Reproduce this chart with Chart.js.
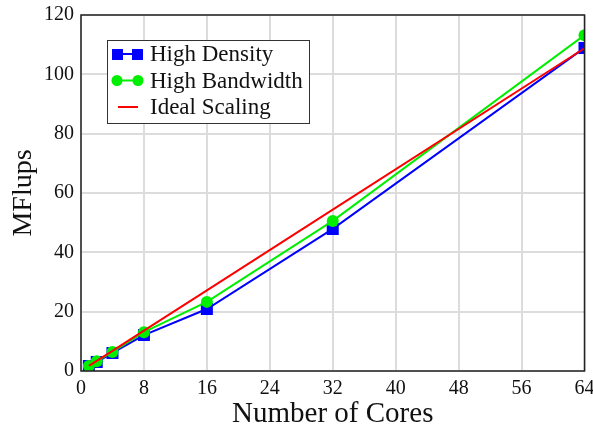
<!DOCTYPE html>
<html>
<head>
<meta charset="utf-8">
<script src="https://cdn.jsdelivr.net/npm/chart.js@4/dist/chart.umd.min.js"></script>
<style>
  html, body { margin: 0; padding: 0; background: #fff; }
  #wrap { width: 593px; height: 432px; }
</style>
</head>
<body>
<div id="wrap"><canvas id="chart" width="593" height="432"></canvas></div>
<script>
// data
const cores = [1, 2, 4, 8, 16, 32, 64];
const highDensity = [1.7, 3.0, 6.1, 12.1, 20.9, 47.9, 108.9];
const highBandwidth = [1.7, 3.3, 6.4, 13.1, 23.3, 50.6, 113.2];
const idealScaling = [1.7, 3.4, 6.8, 13.6, 27.2, 54.4, 108.8];
const xTicks = [0, 8, 16, 24, 32, 40, 48, 56, 64];
const yTicks = [0, 20, 40, 60, 80, 100, 120];

const FONT = "'Liberation Serif', 'DejaVu Serif', serif";

const series = [
  { label: "High Density", values: highDensity, color: "#0000ff", point: "rect" },
  { label: "High Bandwidth", values: highBandwidth, color: "#00ee00", point: "circle" },
  { label: "Ideal Scaling", values: idealScaling, color: "#ff0000", point: false }
];

const toXY = vals => cores.map((c, i) => ({ x: c, y: vals[i] }));

// frame round the plot area + boxed legend with line samples
const framePlugin = {
  id: "frame",
  afterDraw(chart) {
    const ctx = chart.ctx;
    const a = chart.chartArea;
    ctx.save();
    ctx.strokeStyle = "#222";
    ctx.lineWidth = 1.5;
    ctx.strokeRect(a.left, a.top, a.right - a.left, a.bottom - a.top);

    // legend box
    const bx = 107, by = 40, bw = 202, bh = 83;
    ctx.fillStyle = "#fff";
    ctx.fillRect(bx, by, bw, bh);
    ctx.strokeStyle = "#333";
    ctx.lineWidth = 1;
    ctx.strokeRect(bx + 0.5, by + 0.5, bw, bh);

    ctx.font = "23px " + FONT;
    ctx.textBaseline = "middle";
    series.forEach((s, i) => {
      const y = 54 + i * 26.5;
      ctx.strokeStyle = s.color;
      ctx.fillStyle = s.color;
      ctx.lineWidth = 2;
      ctx.beginPath();
      if (s.point) {
        ctx.moveTo(117, y); ctx.lineTo(138, y);
      } else {
        ctx.moveTo(118, y); ctx.lineTo(138, y);
      }
      ctx.stroke();
      if (s.point === "rect") {
        ctx.fillRect(112, y - 5, 11, 11);
        ctx.fillRect(132, y - 5, 11, 11);
      } else if (s.point === "circle") {
        ctx.beginPath(); ctx.arc(117, y, 5.5, 0, Math.PI * 2); ctx.fill();
        ctx.beginPath(); ctx.arc(138, y, 5.5, 0, Math.PI * 2); ctx.fill();
      }
      ctx.fillStyle = "#111";
      ctx.fillText(s.label, 150, y + 1);
    });
    ctx.restore();
  }
};

new Chart(document.getElementById("chart").getContext("2d"), {
  type: "line",
  data: {
    datasets: series.map((s, i) => ({
      label: s.label,
      data: toXY(s.values),
      borderColor: s.color,
      backgroundColor: s.color,
      borderWidth: 2,
      pointStyle: s.point,
      pointRadius: s.point === "rect" ? 8.5 : (s.point ? 6 : 0),
      pointBorderWidth: 0,
      tension: 0,
      order: 3 - i
    }))
  },
  options: {
    responsive: false,
    animation: false,
    layout: { padding: 0 },
    plugins: {
      legend: { display: false },
      tooltip: { enabled: false }
    },
    scales: {
      x: {
        type: "linear",
        min: 0,
        max: 64,
        afterBuildTicks: scale => { scale.ticks = xTicks.map(v => ({ value: v })); },
        afterFit: scale => {
          scale.height = 61;
          scale.paddingLeft = 0;
          scale.paddingRight = 8;
        },
        ticks: {
          font: { family: FONT, size: 20 },
          color: "#111",
          padding: 6,
          maxRotation: 0
        },
        grid: { color: "#dcdcdc", lineWidth: 2, drawTicks: false },
        border: { display: false },
        title: {
          display: true,
          text: "Number of Cores",
          font: { family: FONT, size: 29 },
          color: "#111",
          padding: { top: 0, bottom: 0 }
        }
      },
      y: {
        type: "linear",
        min: 0,
        max: 120,
        afterBuildTicks: scale => { scale.ticks = yTicks.map(v => ({ value: v })); },
        afterFit: scale => {
          scale.width = 81;
          scale.paddingTop = 15;
          scale.paddingBottom = 0;
        },
        ticks: {
          font: { family: FONT, size: 20 },
          color: "#111",
          padding: 7
        },
        grid: { color: "#dcdcdc", lineWidth: 2, drawTicks: false },
        border: { display: false },
        title: {
          display: true,
          text: "MFlups",
          font: { family: FONT, size: 28 },
          color: "#111",
          padding: { top: 7, bottom: 0 }
        }
      }
    }
  },
  plugins: [framePlugin]
});
</script>
</body>
</html>
